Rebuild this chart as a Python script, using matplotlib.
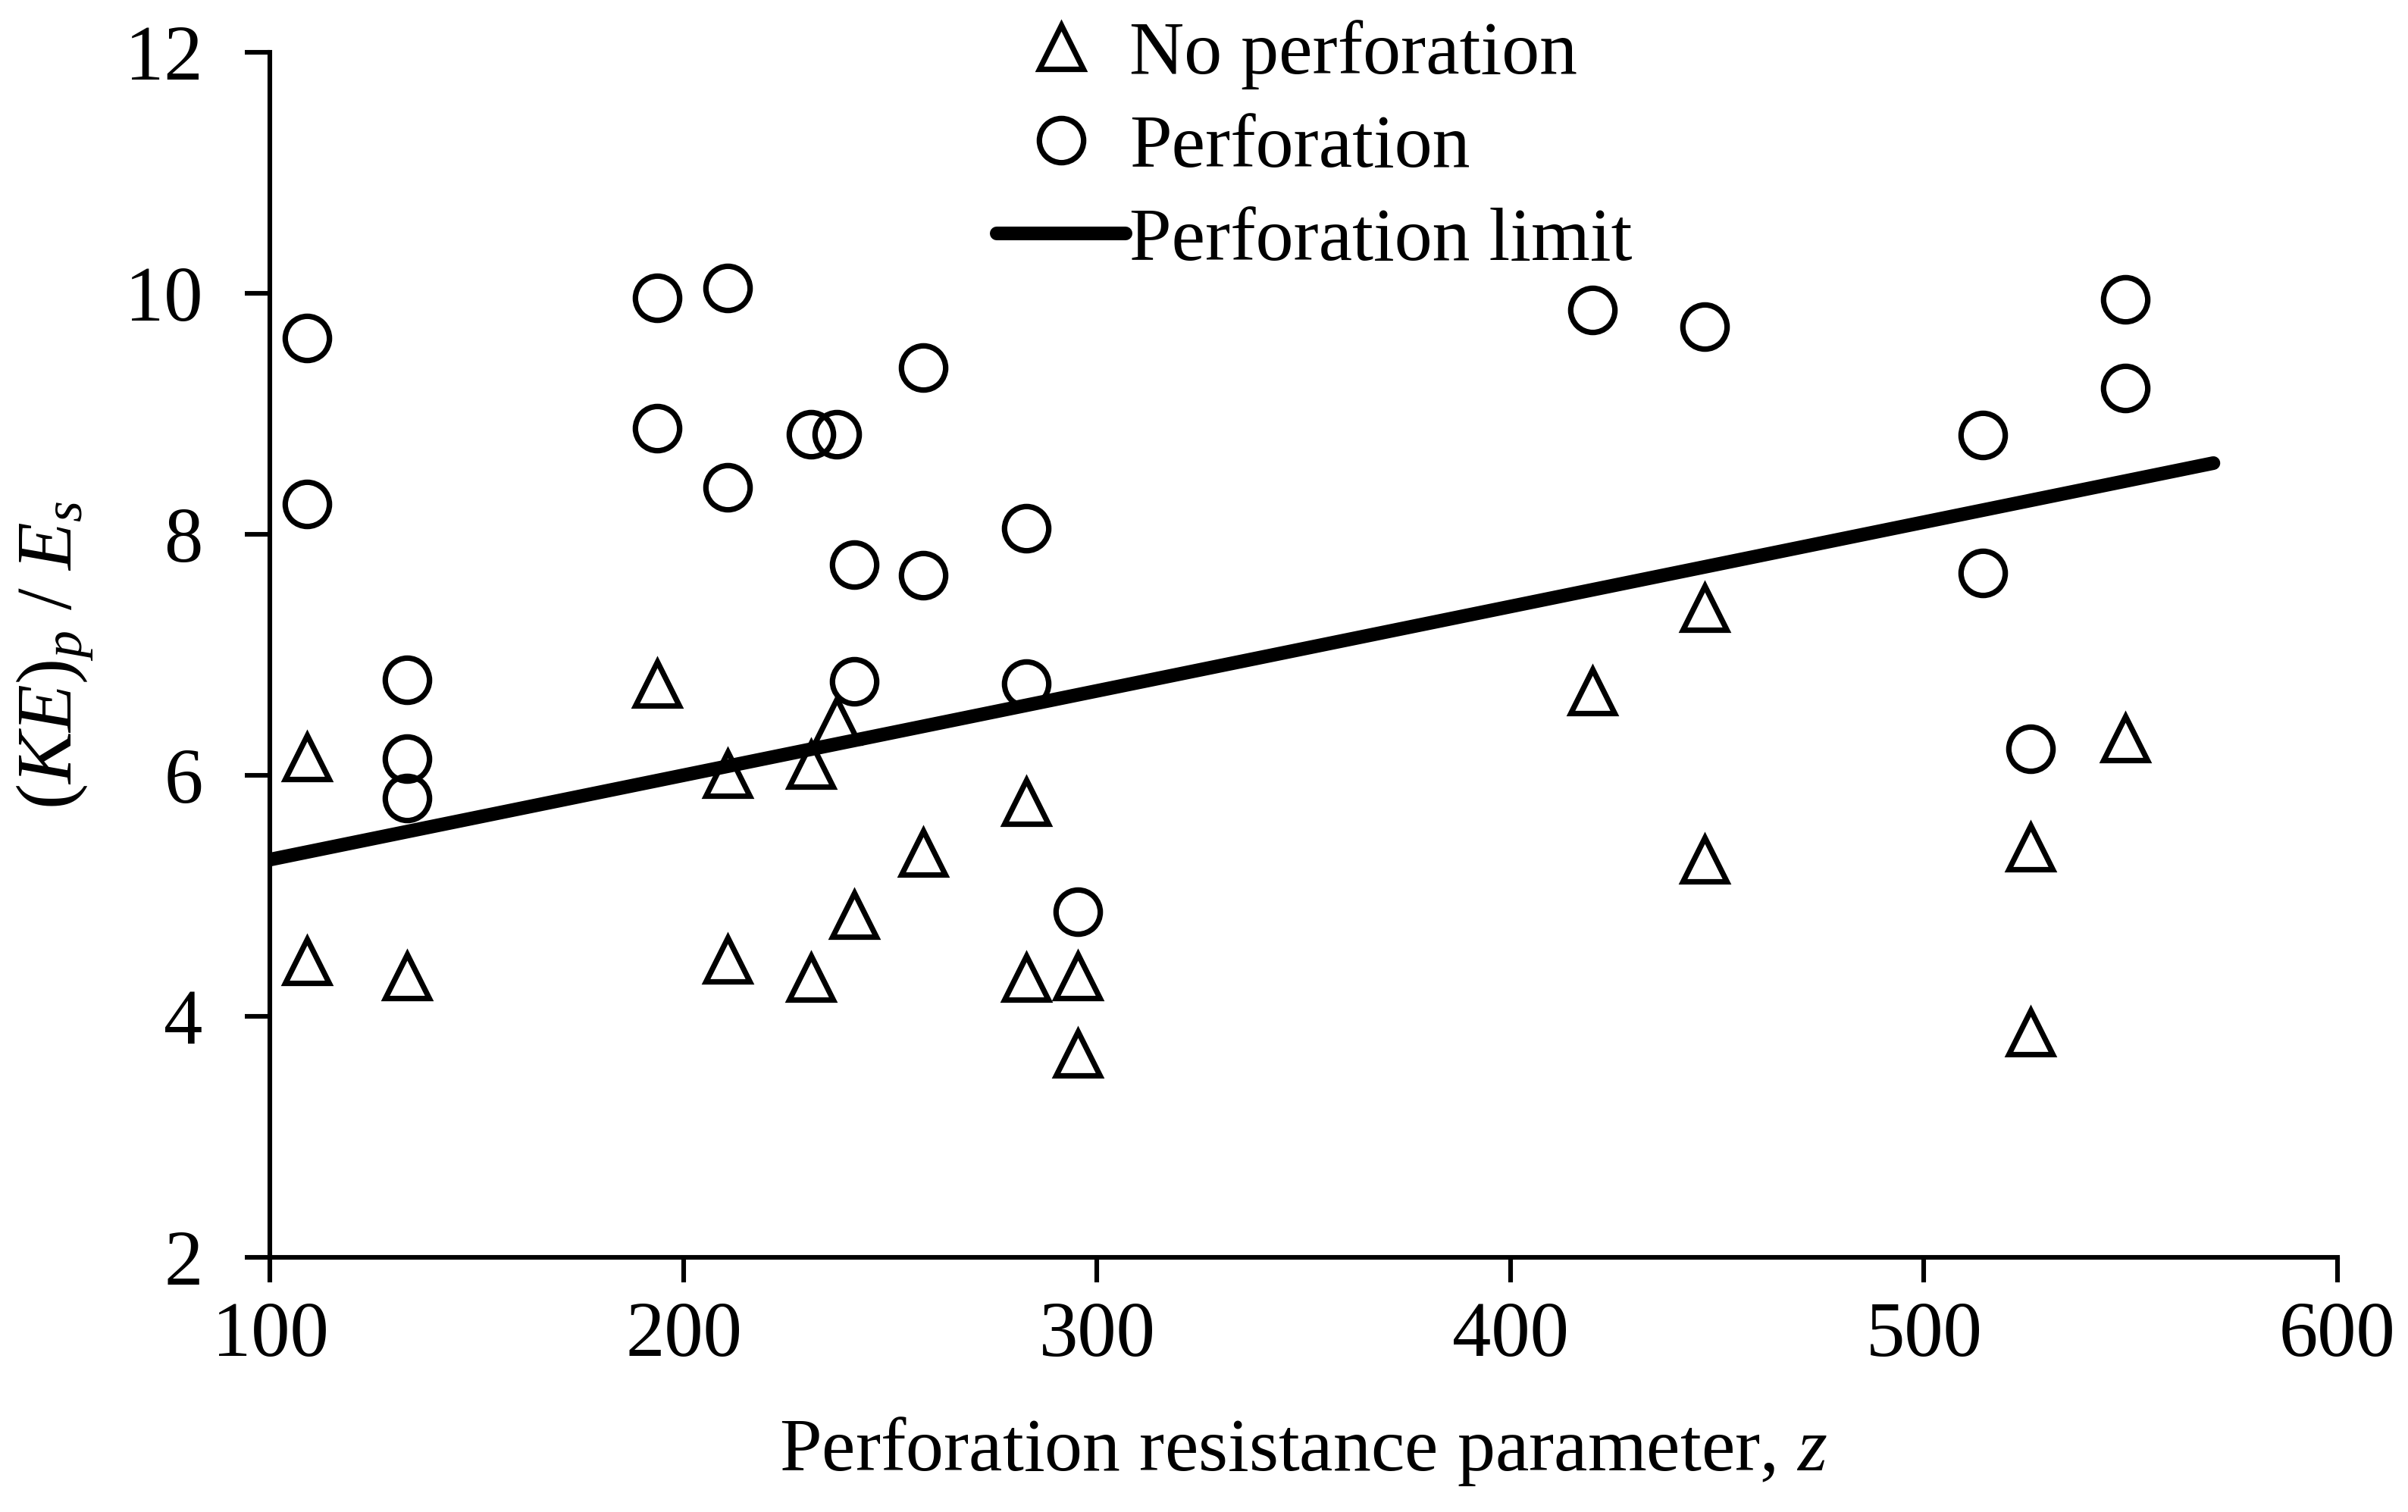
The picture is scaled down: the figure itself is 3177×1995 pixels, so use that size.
import numpy as np
import matplotlib.pyplot as plt

plt.rcParams['font.family'] = ['Liberation Serif', 'DejaVu Serif']
plt.rcParams['mathtext.fontset'] = 'custom'
plt.rcParams['mathtext.rm'] = 'Liberation Serif'
plt.rcParams['mathtext.it'] = 'Liberation Serif:italic'

# No perforation (triangles)
z_np = [108.9, 108.9, 133.1, 193.6, 210.7, 210.7, 230.8, 230.8, 237.1, 241.2,
        257.9, 282.8, 282.8, 295.4, 295.4, 419.8, 447.0, 447.0, 525.7, 525.7, 548.7]
ke_np = [6.15, 4.46, 4.33, 6.76, 6.01, 4.47, 6.09, 4.32, 6.45, 4.84,
         5.36, 5.78, 4.32, 4.33, 3.69, 6.70, 7.39, 5.30, 5.40, 3.87, 6.31]

# Perforation (circles)
z_p = [108.9, 108.9, 133.1, 133.1, 133.1, 193.6, 193.6, 210.7, 210.7, 230.8,
       237.1, 241.2, 241.2, 257.9, 257.9, 282.8, 282.8, 295.4, 419.8, 447.0,
       514.2, 514.2, 525.7, 548.7, 548.7]
ke_p = [9.63, 8.25, 6.79, 6.14, 5.81, 9.96, 8.88, 10.04, 8.39, 8.83,
        8.83, 7.75, 6.78, 9.38, 7.66, 8.05, 6.76, 4.87, 9.86, 9.72,
        8.82, 7.68, 6.22, 9.21, 9.95]

# Perforation limit line
z_lim = [100, 570]
ke_lim = [5.30, 8.59]

fig = plt.figure(figsize=(15.885, 9.975), dpi=200)
ax = fig.add_axes([0.1122, 0.1685, 0.8585, 0.797])

ax.plot(z_np, ke_np, linestyle='none', marker='^', markersize=21,
        markerfacecolor='none', markeredgecolor='black', markeredgewidth=2.6,
        label='No perforation', clip_on=False)
ax.plot(z_p, ke_p, linestyle='none', marker='o', markersize=21,
        markerfacecolor='none', markeredgecolor='black', markeredgewidth=2.6,
        label='Perforation', clip_on=False)
ax.plot(z_lim, ke_lim, color='black', linewidth=6.5, solid_capstyle='round',
        label='Perforation limit', zorder=3)

ax.set_xlim(100, 600)
ax.set_ylim(2, 12)
ax.set_xticks([100, 200, 300, 400, 500, 600])
ax.set_yticks([2, 4, 6, 8, 10, 12])

for s in ['top', 'right']:
    ax.spines[s].set_visible(False)
for s in ['left', 'bottom']:
    ax.spines[s].set_linewidth(2.2)

ax.tick_params(axis='both', direction='out', length=12, width=2.2, labelsize=37)
ax.tick_params(axis='x', pad=9)
ax.tick_params(axis='y', pad=20)

ax.set_xlabel(r'Perforation resistance parameter, $z$', fontsize=36, labelpad=20)
ax.set_ylabel(r'$(KE)_p\ /\ E_s$', fontsize=37, labelpad=14)

fig.legend(loc='upper left', bbox_to_anchor=(0.414, 0.987), frameon=False,
           fontsize=36, handlelength=1.7, handletextpad=0.05, labelspacing=0.32,
           borderpad=0, borderaxespad=0)

fig.savefig('out.png', dpi=200)
plt.close()
